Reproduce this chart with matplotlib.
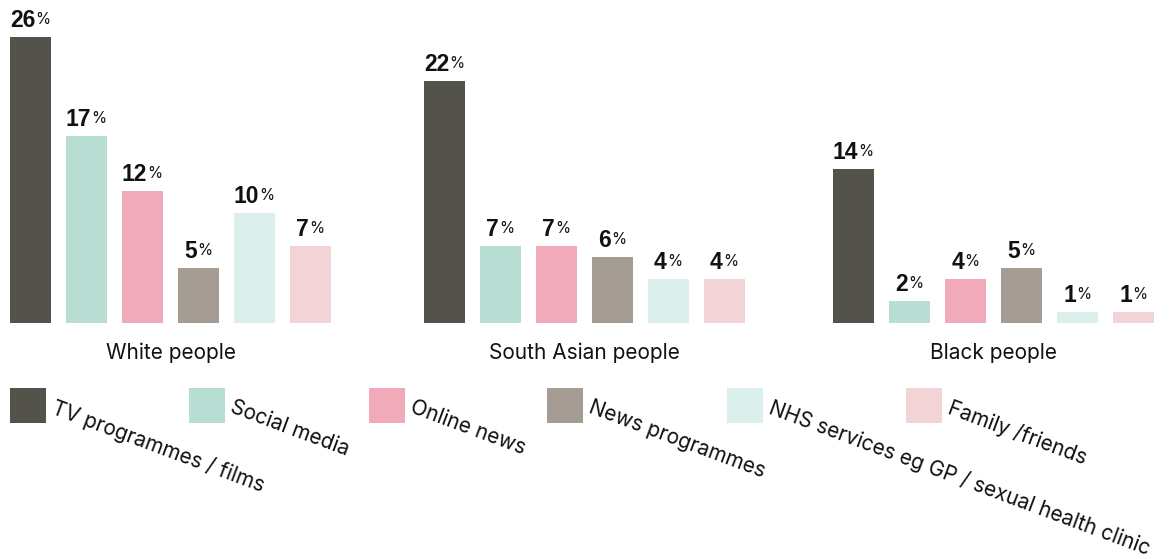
import matplotlib.pyplot as plt
from matplotlib.patches import Rectangle
import matplotlib.transforms as mtransforms

plt.rcParams['font.family'] = ['Liberation Sans', 'DejaVu Sans']

groups = ['White people', 'South Asian people', 'Black people']
sources = ['TV programmes / films', 'Social media', 'Online news',
           'News programmes', 'NHS services eg GP / sexual health clinic',
           'Family /friends']
white = [26, 17, 12, 5, 10, 7]
south_asian = [22, 7, 7, 6, 4, 4]
black = [14, 2, 4, 5, 1, 1]
values = [white, south_asian, black]

colors = ['#53534b', '#b8ddd3', '#f1aab9', '#a59d94', '#dbefec', '#f2d3d6']
label_font = ['Inter', 'DejaVu Sans']

W, H = 1170, 559
fig = plt.figure(figsize=(W / 100, H / 100), dpi=100)

# pixel-coordinate overlay for labels and legend
ov = fig.add_axes([0, 0, 1, 1])
ov.set_xlim(0, W)
ov.set_ylim(H, 0)
ov.axis('off')

base_px = 323
px_per_pct = 11
ax = fig.add_axes([0, (H - base_px) / H, 1, base_px / H])
ax.set_xlim(0, W)
ax.set_ylim(0, base_px / px_per_pct)
ax.axis('off')

group_start = [10, 424, 833]
step = 56
bw = 41

for g, (gname, vals) in enumerate(zip(groups, values)):
    xs = [group_start[g] + i * step for i in range(len(vals))]
    ax.bar(xs, vals, width=bw, align='edge', color=colors)
    for x, v in zip(xs, vals):
        tr = mtransforms.offset_copy(ax.transData, fig=fig, x=-8, y=5, units='dots')
        t = ax.text(x + bw / 2, v, str(v), transform=tr, ha='center', va='bottom',
                    fontsize=16.5, fontweight='bold', color='#111111')
        ax.annotate('%', xy=(1, 1), xycoords=t, xytext=(0, -2.5), textcoords='offset points',
                    ha='left', va='top', fontsize=11, family=label_font, color='#111111')
    center = group_start[g] + (5 * step + bw) / 2
    ov.text(center, 353, gname, ha='center', va='center', fontsize=15,
            family=label_font, color='#111111')

leg_x = [10, 189, 369, 547, 727, 906]
for x, c, name in zip(leg_x, colors, sources):
    ov.add_patch(Rectangle((x, 388), 36, 35, color=c, lw=0))
    ov.text(x + 46, 397, name, rotation=-20.5, rotation_mode='anchor', ha='left', va='top',
            fontsize=15, family=label_font, color='#111111')

fig.savefig('out.png', dpi=100)
